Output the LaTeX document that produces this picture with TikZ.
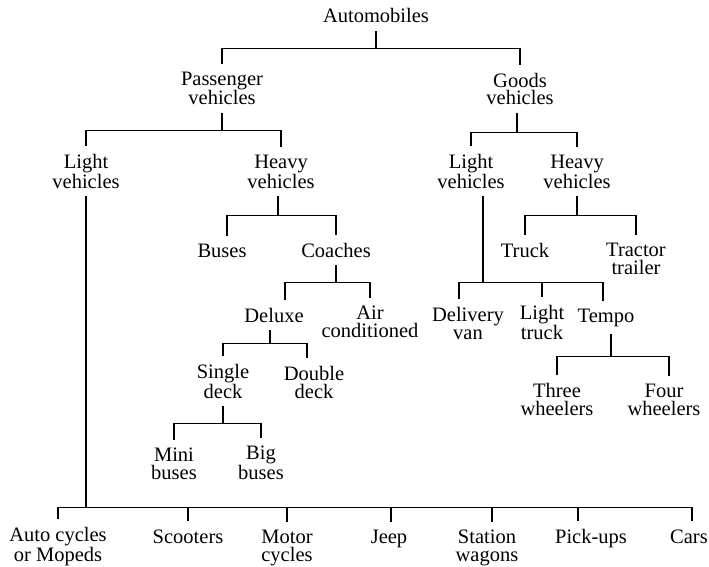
\documentclass[tikz,border=0pt]{standalone}
\usepackage{fontspec}
\setmainfont{Liberation Serif}

\begin{document}
\begin{tikzpicture}[x=1pt, y=-1pt,
    vtext/.style={font=\fontsize{20.5}{17.5}\selectfont, align=center, inner sep=0pt, outer ysep=8pt, anchor=base},
    link/.style={draw=black, line width=1.1pt}
]
\useasboundingbox (0,0) rectangle (709,567);

% Root
\node[vtext] (auto) at (376,23) {Automobiles};

% Passenger side (y = baseline of last line)
\node[vtext] (pass) at (222,105) {Passenger\\vehicles};
\node[vtext] (plight) at (86,188) {Light\\vehicles};
\node[vtext] (pheavy) at (281,188) {Heavy\\vehicles};
\node[vtext] (buses) at (222,257) {Buses};
\node[vtext] (coaches) at (336,257) {Coaches};
\node[vtext] (deluxe) at (274,322) {Deluxe};
\node[vtext] (aircon) at (370,337) {Air\\conditioned};
\node[vtext] (single) at (223,398) {Single\\deck};
\node[vtext] (double) at (314,398) {Double\\deck};
\node[vtext] (mini) at (174,479) {Mini\\buses};
\node[vtext] (big) at (261,479) {Big\\buses};

% Goods side
\node[vtext] (goods) at (520,105) {Goods\\vehicles};
\node[vtext] (glight) at (471,188) {Light\\vehicles};
\node[vtext] (gheavy) at (577,188) {Heavy\\vehicles};
\node[vtext] (truck) at (525,257) {Truck};
\node[vtext] (tractor) at (636,274) {Tractor\\trailer};
\node[vtext] (delivery) at (468,339) {Delivery\\van};
\node[vtext] (ltruck) at (542,339) {Light\\truck};
\node[vtext] (tempo) at (606,322) {Tempo};
\node[vtext] (three) at (557,415) {Three\\wheelers};
\node[vtext] (four) at (664,415) {Four\\wheelers};

% Bottom row (light passenger vehicles)
\node[vtext] (mopeds) at (58,561) {Auto cycles\\or Mopeds};
\node[vtext] (scooters) at (188,543) {Scooters};
\node[vtext] (motor) at (287,561) {Motor\\cycles};
\node[vtext] (jeep) at (389,543) {Jeep};
\node[vtext] (station) at (487,561) {Station\\wagons};
\node[vtext] (pickups) at (591,543) {Pick-ups};
\node[vtext] (cars) at (689,543) {Cars};

% Tree links
\draw[link] (auto.south) -- ++(0,17) -| (pass.north);
\draw[link] (auto.south) -- ++(0,17) -| (goods.north);

\draw[link] (pass.south) -- ++(0,17) -| (plight.north);
\draw[link] (pass.south) -- ++(0,17) -| (pheavy.north);
\draw[link] ([xshift=-3pt]pheavy.south) -- ++(0,19) -| ([xshift=5pt]buses.north);
\draw[link] ([xshift=-3pt]pheavy.south) -- ++(0,19) -| (coaches.north);
\draw[link] (coaches.south) -- ++(0,17) -| ([xshift=11pt]deluxe.north);
\draw[link] (coaches.south) -- ++(0,17) -| (aircon.north);
\draw[link] ([xshift=-4pt]deluxe.south) -- ++(0,13) -| (single.north);
\draw[link] ([xshift=-4pt]deluxe.south) -- ++(0,13) -| ([xshift=-7pt]double.north);
\draw[link] (single.south) -- ++(0,17) -| (mini.north);
\draw[link] (single.south) -- ++(0,17) -| (big.north);

\draw[link] ([xshift=-3pt]goods.south) -- ++(0,19) -| (glight.north);
\draw[link] ([xshift=-3pt]goods.south) -- ++(0,19) -| (gheavy.north);
\draw[link] (gheavy.south) -- ++(0,19) -| (truck.north);
\draw[link] (gheavy.south) -- ++(0,19) -| (tractor.north);
\draw[link] ([xshift=12pt]glight.south) -- ++(0,86) -| ([xshift=-9pt]delivery.north);
\draw[link] ([xshift=12pt]glight.south) -- ++(0,86) -| (ltruck.north);
\draw[link] ([xshift=12pt]glight.south) -- ++(0,86) -| ([xshift=-3pt]tempo.north);
\draw[link] ([xshift=5pt]tempo.south) -- ++(0,22) -| (three.north);
\draw[link] ([xshift=5pt]tempo.south) -- ++(0,22) -| ([xshift=5pt]four.north);

\foreach \n/\dx in {mopeds/0, scooters/0, motor/0, jeep/2, station/5, pickups/-13, cars/3}
  \draw[link] (plight.south) -- ++(0,311) -| ([xshift=\dx pt]\n.north);

\end{tikzpicture}
\end{document}
